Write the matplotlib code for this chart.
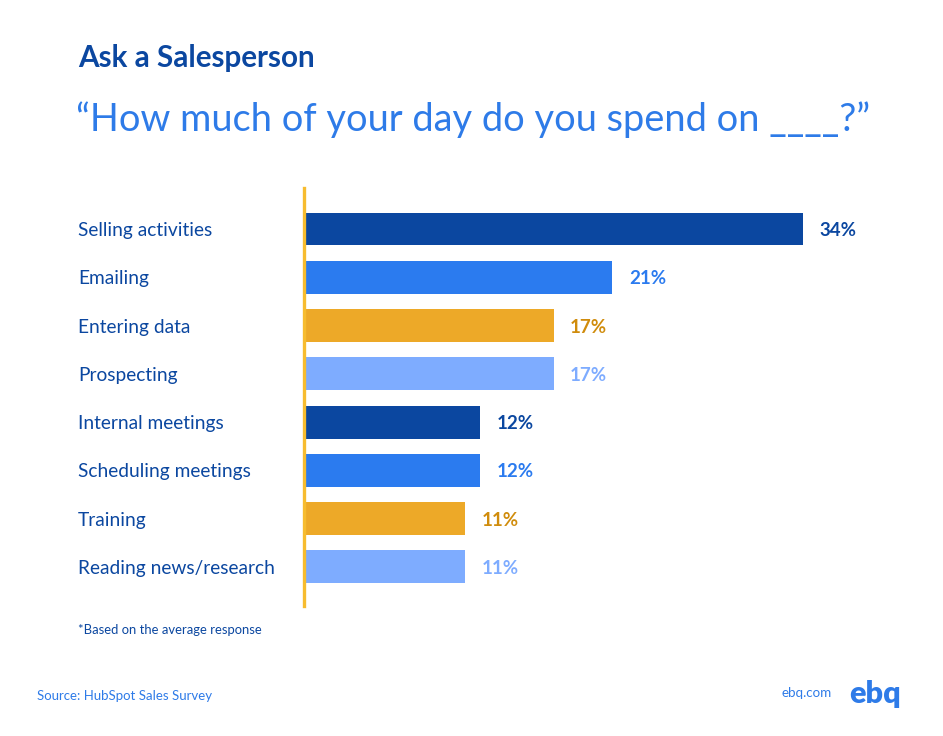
import numpy as np
import matplotlib.pyplot as plt
import matplotlib.transforms as mtransforms

# data
categories = ['Selling activities', 'Emailing', 'Entering data', 'Prospecting',
              'Internal meetings', 'Scheduling meetings', 'Training',
              'Reading news/research']
shares = [34, 21, 17, 17, 12, 12, 11, 11]
value_labels = ['34%', '21%', '17%', '17%', '12%', '12%', '11%', '11%']

DARK = '#0B47A0'
MID = '#2B7BEF'
GOLD = '#EDA928'
LIGHT = '#7EACFF'
bar_colors = [DARK, MID, GOLD, LIGHT] * 2
text_colors = [DARK, MID, '#D08C0C', LIGHT] * 2

W, H = 943, 736
plt.rcParams['font.family'] = ['Lato', 'DejaVu Sans']

fig = plt.figure(figsize=(W / 100, H / 100), dpi=100)
fig.patch.set_facecolor('white')


def fx(px):
    return px / W


def fy(py):
    return 1 - py / H


# axes covering bar area (pixel box)
left, right, top, bottom = 304, 904, 188, 606
ax = fig.add_axes([fx(left), fy(bottom), fx(right - left), (bottom - top) / H])

y = np.arange(len(categories))
ax.barh(y, shares, height=0.68, color=bar_colors, left=0)
ax.set_xlim(0, 34 * (right - left) / 499)
ax.set_ylim(7 + 0.81, -0.85)

for sp in ['top', 'right', 'bottom']:
    ax.spines[sp].set_visible(False)
ax.spines['left'].set_color('#F7BC2F')
ax.spines['left'].set_linewidth(2.4)
ax.set_xticks([])
ax.set_yticks([])

trans = mtransforms.blended_transform_factory(fig.transFigure, ax.transData)
for i, (cat, v, lab) in enumerate(zip(categories, shares, value_labels)):
    ax.text(fx(78), i + 0.03, cat, transform=trans, ha='left', va='center',
            fontsize=13.8, color=DARK)
    ax.annotate(lab, (v, i + 0.03), xytext=(12, 0), textcoords='offset points',
                ha='left', va='center', fontsize=13.5, fontweight='bold',
                color=text_colors[i])

fig.text(fx(78), fy(58), 'Ask a Salesperson', ha='left', va='center',
         fontsize=21.3, fontweight='bold', color=DARK)
fig.text(fx(76), fy(120), '\u201cHow much of your day do you spend on ____?\u201d',
         ha='left', va='center', fontsize=27.4, color='#2E7BE8')
fig.text(fx(78), fy(630), '*Based on the average response', ha='left',
         va='center', fontsize=9.4, color=DARK)
fig.text(fx(37), fy(696), 'Source: HubSpot Sales Survey', ha='left',
         va='center', fontsize=9.5, color='#2E7BE8')
fig.text(fx(782), fy(693), 'ebq.com', ha='left', va='center',
         fontsize=9.6, color='#2E7BE8')
fig.text(fx(849), fy(694), 'ebq', ha='left', va='center', fontsize=22,
         fontweight='heavy', color='#2E7BE8')

fig.savefig('out.png', dpi=100, facecolor='white')
